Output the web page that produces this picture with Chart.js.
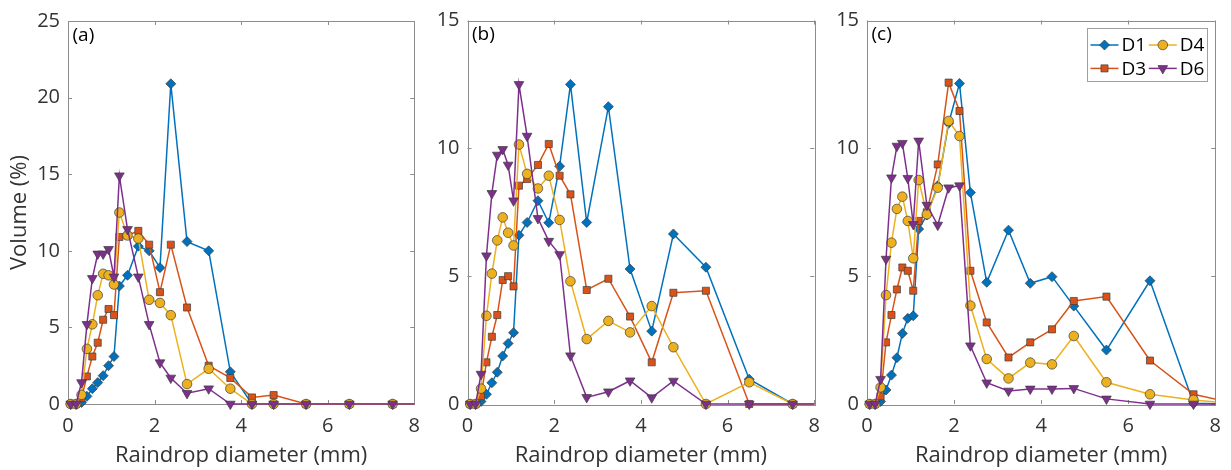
<!DOCTYPE html>
<html>
<head>
<meta charset="utf-8">
<script src="https://cdn.jsdelivr.net/npm/chart.js@4.4.1/dist/chart.umd.min.js"></script>
<style>
  html, body { margin: 0; padding: 0; background: #fff; }
  #wrap { position: relative; width: 1231px; height: 470px; }
  .panel { position: absolute; top: 0; height: 470px; }
</style>
</head>
<body>
<div id="wrap">
  <div class="panel" style="left:0;width:430px"><canvas id="chartA"></canvas></div>
  <div class="panel" style="left:430px;width:400px"><canvas id="chartB"></canvas></div>
  <div class="panel" style="left:830px;width:401px"><canvas id="chartC"></canvas></div>
</div>
<script>
// Parsivel size classes (mm); last class lies past the axis and is clipped
const diameters = [0.062, 0.187, 0.312, 0.437, 0.562, 0.687, 0.812, 0.937, 1.062, 1.187, 1.375, 1.625,
  1.875, 2.125, 2.375, 2.75, 3.25, 3.75, 4.25, 4.75, 5.5, 6.5, 7.5, 8.5];
const seriesNames = ['D1', 'D3', 'D4', 'D6'];
const panelLabels = ['(a)', '(b)', '(c)'];
const yMaxes = [25, 15, 15];

// panel (a)
const aD1 = [0, 0, 0.1, 0.5, 1.0, 1.4, 1.85, 2.5, 3.1, 7.7, 8.4, 10.3, 10.0, 8.9, 20.9, 10.6, 10.0, 2.1, 0, 0, 0, 0, 0, 0];
const aD3 = [0, 0, 0.4, 1.8, 3.1, 4.0, 5.5, 6.2, 5.8, 10.9, 11.0, 11.3, 10.4, 7.3, 10.4, 6.3, 2.5, 1.7, 0.43, 0.58, 0, 0, 0, 0];
const aD4 = [0, 0, 0.6, 3.6, 5.2, 7.1, 8.5, 8.4, 7.8, 12.5, 11.0, 10.8, 6.8, 6.6, 5.8, 1.3, 2.3, 1.0, 0, 0, 0, 0, 0, 0];
const aD6 = [0, 0, 1.4, 5.2, 8.2, 9.8, 9.8, 10.1, 8.3, 14.9, 11.4, 8.3, 5.2, 2.7, 1.7, 0.7, 1.0, 0, 0, 0, 0, 0, 0, 0];

// panel (b)
const bD1 = [0, 0, 0.1, 0.38, 0.83, 1.24, 1.88, 2.37, 2.79, 6.6, 7.1, 7.95, 7.09, 9.3, 12.5, 7.1, 11.63, 5.28, 2.85, 6.65, 5.35, 0.97, 0, 0];
const bD3 = [0, 0, 0.3, 1.63, 2.63, 3.48, 4.85, 5.0, 4.6, 8.54, 8.8, 9.35, 10.17, 8.93, 8.2, 4.46, 4.9, 3.42, 1.63, 4.35, 4.43, 0, 0, 0];
const bD4 = [0, 0, 0.6, 3.45, 5.1, 6.4, 7.3, 6.7, 6.2, 10.15, 9.0, 8.43, 8.93, 7.2, 4.8, 2.54, 3.25, 2.8, 3.83, 2.22, 0, 0.85, 0, 0];
const bD6 = [0, 0, 1.17, 5.8, 8.24, 9.74, 9.96, 9.35, 7.95, 12.5, 10.48, 7.26, 6.37, 5.85, 1.89, 0.26, 0.48, 0.91, 0.25, 0.9, 0, 0, 0, 0];

// panel (c)
const cD1 = [0, 0, 0.1, 0.55, 1.13, 1.81, 2.76, 3.35, 3.45, 6.84, 7.39, 8.54, 10.98, 12.54, 8.27, 4.76, 6.8, 4.72, 4.98, 3.83, 2.11, 4.82, 0.03, 0];
const cD3 = [0, 0, 0.3, 2.41, 3.48, 4.48, 5.34, 5.21, 4.43, 7.16, 7.5, 9.37, 12.57, 11.46, 5.21, 3.19, 1.82, 2.41, 2.92, 4.03, 4.2, 1.7, 0.38, 0];
const cD4 = [0, 0, 0.65, 4.26, 6.31, 7.63, 8.11, 7.16, 5.7, 8.76, 7.42, 8.46, 11.07, 10.48, 3.85, 1.76, 1.0, 1.62, 1.55, 2.66, 0.85, 0.38, 0.16, 0];
const cD6 = [0, 0, 0.97, 5.67, 8.85, 10.09, 10.2, 8.83, 7.03, 10.29, 7.78, 7.0, 8.46, 8.54, 2.28, 0.83, 0.51, 0.59, 0.59, 0.61, 0.2, 0, 0, 0];

// styles
const colors = { D1: '#0072BD', D3: '#D95319', D4: '#EDB120', D6: '#7E2F8E' };
const markers = {
  D1: { style: 'rectRot', radius: 5, rotation: 0 },
  D3: { style: 'rect', radius: 5, rotation: 0 },
  D4: { style: 'circle', radius: 4.8, rotation: 0 },
  D6: { style: 'triangle', radius: 5.6, rotation: 180 },
};
const fontFamily = '"Open Sans", "Noto Sans", sans-serif';
const axisColor = '#8c8c8c';
const textColor = '#333333';

Chart.defaults.font.family = fontFamily;

// box around the axes with inward ticks on all four sides
const framePlugin = {
  id: 'frame',
  beforeDatasetsDraw(chart) {
    const { ctx, chartArea: a, scales: { x, y } } = chart;
    const len = 4;
    ctx.save();
    ctx.strokeStyle = axisColor;
    ctx.lineWidth = 1;
    ctx.beginPath();
    x.ticks.forEach(t => {
      const px = Math.round(x.getPixelForValue(t.value)) + 0.5;
      ctx.moveTo(px, a.bottom); ctx.lineTo(px, a.bottom - len);
      ctx.moveTo(px, a.top); ctx.lineTo(px, a.top + len);
    });
    y.ticks.forEach(t => {
      const py = Math.round(y.getPixelForValue(t.value)) + 0.5;
      ctx.moveTo(a.left, py); ctx.lineTo(a.left + len, py);
      ctx.moveTo(a.right, py); ctx.lineTo(a.right - len, py);
    });
    ctx.stroke();
    ctx.strokeRect(Math.round(a.left) + 0.5, Math.round(a.top) + 0.5,
      Math.round(a.right - a.left), Math.round(a.bottom - a.top));
    ctx.restore();
  }
};

const panelLabelPlugin = {
  id: 'panelLabel',
  afterDraw(chart, args, opts) {
    if (!opts.text) return;
    const { ctx, chartArea: a } = chart;
    ctx.save();
    ctx.font = '19px ' + fontFamily;
    ctx.fillStyle = '#000';
    ctx.textBaseline = 'top';
    ctx.fillText(opts.text, a.left + 4.5, a.top + 5);
    ctx.restore();
  }
};

// two-column legend in the top right corner (D1 D4 / D3 D6)
const cornerLegendPlugin = {
  id: 'cornerLegend',
  afterDraw(chart, args, opts) {
    if (!opts.display) return;
    const { ctx, chartArea: a } = chart;
    const w = 120, h = 53;
    const left = Math.round(a.right - 8.5 - w), top = Math.round(a.top + 7);
    ctx.save();
    ctx.fillStyle = '#fff';
    ctx.fillRect(left, top, w, h);
    ctx.strokeStyle = '#a0a0a0';
    ctx.lineWidth = 1;
    ctx.strokeRect(left + 0.5, top + 0.5, w, h);
    chart.data.datasets.forEach((ds, i) => {
      const col = Math.floor(i / 2), row = i % 2;
      const x0 = left + 3.5 + col * 58.3;
      const cy = top + 17 + row * 23.4;
      ctx.strokeStyle = ds.borderColor;
      ctx.lineWidth = ds.borderWidth;
      ctx.beginPath();
      ctx.moveTo(x0, cy); ctx.lineTo(x0 + 28, cy);
      ctx.stroke();
      ctx.fillStyle = ds.pointBackgroundColor;
      ctx.strokeStyle = ds.pointBorderColor;
      ctx.lineWidth = ds.pointBorderWidth;
      Chart.helpers.drawPoint(ctx, {
        pointStyle: ds.pointStyle, radius: ds.pointRadius,
        rotation: ds.pointRotation, borderWidth: ds.pointBorderWidth
      }, x0 + 14, cy);
      ctx.fillStyle = '#000';
      ctx.font = '19px ' + fontFamily;
      ctx.textBaseline = 'middle';
      ctx.fillText(ds.label, x0 + 31, cy + 1);
    });
    ctx.restore();
  }
};

function makeDatasets(values) {
  return seriesNames.map((name, i) => ({
    label: name,
    data: diameters.map((d, j) => ({ x: d, y: values[i][j] })),
    showLine: true,
    borderColor: colors[name],
    borderWidth: 1.5,
    pointStyle: markers[name].style,
    pointRadius: markers[name].radius,
    pointRotation: markers[name].rotation,
    pointBackgroundColor: colors[name],
    pointBorderColor: '#3c3c3c',
    pointBorderWidth: 0.7,
    clip: { left: 10, top: 10, right: 0, bottom: 10 },
    order: seriesNames.length - 1 - i, // D6 drawn on top
  }));
}

function makeChart(id, values, idx, layout) {
  return new Chart(document.getElementById(id), {
    type: 'scatter',
    data: { datasets: makeDatasets(values) },
    plugins: [framePlugin, panelLabelPlugin, cornerLegendPlugin],
    options: {
      responsive: true,
      maintainAspectRatio: false,
      animation: false,
      layout: { padding: { left: 0, right: layout.padRight, top: layout.padTop, bottom: 0 } },
      plugins: {
        legend: { display: false },
        tooltip: { enabled: false },
        panelLabel: { text: panelLabels[idx] },
        cornerLegend: { display: idx === 2 },
      },
      scales: {
        x: {
          type: 'linear', min: 0, max: 8,
          ticks: { stepSize: 2, color: textColor, font: { size: 20 }, padding: 10, maxRotation: 0 },
          grid: { display: false, drawTicks: false },
          border: { display: false },
          title: { display: true, text: 'Raindrop diameter (mm)', color: textColor,
            font: { size: 22 }, padding: { top: 0, bottom: 1 } },
          afterFit: s => { s.height = 66; },
        },
        y: {
          type: 'linear', min: 0, max: yMaxes[idx],
          ticks: { stepSize: 5, color: textColor, font: { size: 20 }, padding: 8 },
          grid: { display: false, drawTicks: false },
          border: { display: false },
          title: { display: idx === 0, text: 'Volume (%)', color: textColor,
            font: { size: 22 }, padding: { top: 7, bottom: 0 } },
          afterFit: s => { s.width = layout.yWidth; },
        },
      },
    },
  });
}

makeChart('chartA', [aD1, aD3, aD4, aD6], 0, { yWidth: 68, padRight: 14, padTop: 21 });
makeChart('chartB', [bD1, bD3, bD4, bD6], 1, { yWidth: 37.5, padRight: 14, padTop: 20.5 });
makeChart('chartC', [cD1, cD3, cD4, cD6], 2, { yWidth: 37, padRight: 10, padTop: 20.5 });
</script>
</body>
</html>
